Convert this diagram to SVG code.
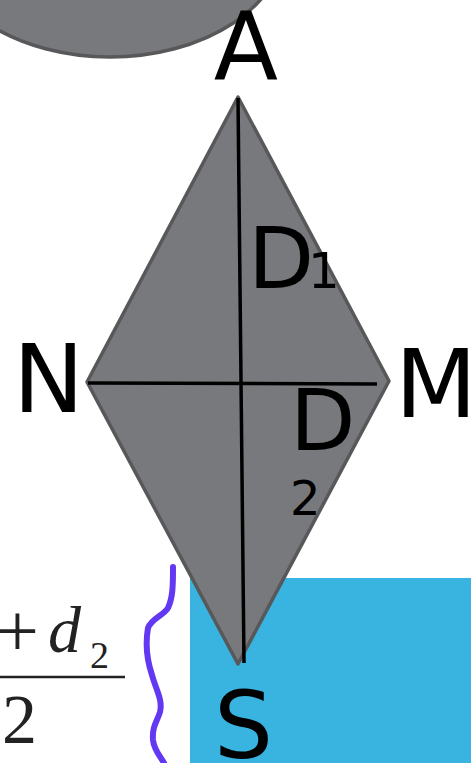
<svg xmlns="http://www.w3.org/2000/svg" width="471" height="763" viewBox="0 0 471 763">
<style>
.lbl{font-family:"DejaVu Sans",sans-serif;fill:#000}
.fx{font-family:"Liberation Serif",serif;fill:#222}
.shape{fill:#78797d;stroke:#58585a;stroke-width:3.5;stroke-linejoin:round}
.diag{stroke:#000;stroke-width:3.5;fill:none}
</style>
<rect width="471" height="763" fill="#fff"/>
<g id="blob"><ellipse cx="110" cy="-60" rx="175" ry="117" class="shape"/></g>
<g id="bluebox"><rect x="190" y="578" width="281" height="185" fill="#39b3df"/></g>
<g id="formula">
<text class="fx" x="-4" y="656" font-size="76">+</text>
<text class="fx" x="48" y="652" font-size="66" font-style="italic">d</text>
<text class="fx" x="90" y="668" font-size="38">2</text>
<line x1="0" y1="677" x2="125" y2="677" stroke="#222" stroke-width="2.5"/>
<text class="fx" x="2" y="743" font-size="70">2</text>
</g>
<g id="brace"><path d="M173,567 C173,585 173,597 168,608 C163,616 152,618 148,628 C145,645 147,660 152,675 C156,690 163,700 160,712 C157,722 152,726 153,740 C154,750 160,756 164,763" fill="none" stroke="#6238f2" stroke-width="6" stroke-linecap="round"/></g>
<g id="rhombus"><polygon points="238,97 389,381 238,664 87,382" class="shape"/></g>
<g id="connectors">
<line x1="238" y1="98" x2="244" y2="663" class="diag"/>
<line x1="88" y1="383" x2="377" y2="384" class="diag"/>
</g>
<g id="labels">
<text class="lbl" x="246" y="80" font-size="94" text-anchor="middle">A</text>
<text class="lbl" x="13" y="412" font-size="95">N</text>
<text class="lbl" x="395" y="417" font-size="95">M</text>
<text class="lbl" x="214" y="758" font-size="93">S</text>
<text class="lbl" x="248" y="288" font-size="86">D</text>
<text class="lbl" x="308" y="288" font-size="50">1</text>
<text class="lbl" x="290" y="450" font-size="85">D</text>
<text class="lbl" x="290" y="515" font-size="48">2</text>
</g>
</svg>
